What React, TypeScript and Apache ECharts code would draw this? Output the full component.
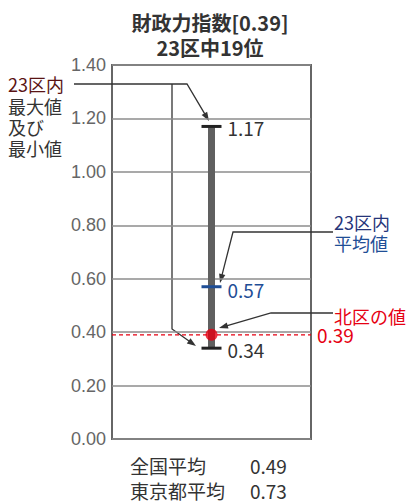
import React, { useEffect, useRef } from "react";
import * as echarts from "echarts";

const categories = ["北区"];
const maxValues = [1.17];
const minValues = [0.34];
const meanValues = [0.57];
const kitaValues = [0.39];
const yMin = 0;
const yMax = 1.4;
const yInterval = 0.2;
const titleLines = ["財政力指数[0.39]", "23区中19位"];
const footLabels = ["全国平均", "東京都平均"];
const footValues = [0.49, 0.73];

const JP = '"Noto Sans CJK JP", "Noto Sans", sans-serif';
const INK = "#333";
const RED = "#e60012";
const BLUE = "#1f4e96";
const NAVY = "#26357a";

function arrowHead(tipX: number, tipY: number, fromX: number, fromY: number) {
  const dx = tipX - fromX;
  const dy = tipY - fromY;
  const len = Math.sqrt(dx * dx + dy * dy);
  const ux = dx / len;
  const uy = dy / len;
  const L = 9;
  const W = 3.2;
  const bx = tipX - ux * L;
  const by = tipY - uy * L;
  return {
    type: "polygon",
    shape: {
      points: [
        [tipX, tipY],
        [bx - uy * W, by + ux * W],
        [bx + uy * W, by - ux * W],
      ],
    },
    style: { fill: INK },
    silent: true,
  };
}

function leader(points: number[][]) {
  const n = points.length;
  const tip = points[n - 1];
  const prev = points[n - 2];
  const dx = tip[0] - prev[0];
  const dy = tip[1] - prev[1];
  const len = Math.sqrt(dx * dx + dy * dy);
  const shortened = [...points.slice(0, n - 1), [tip[0] - (dx / len) * 6, tip[1] - (dy / len) * 6]];
  return [
    {
      type: "polyline",
      shape: { points: shortened },
      style: { stroke: INK, lineWidth: 1.3, fill: "none" },
      silent: true,
    },
    arrowHead(tip[0], tip[1], prev[0], prev[1]),
  ];
}

function txt(x: number, y: number, text: string, fill: string, size: number, extra: any = {}) {
  return {
    type: "text",
    x,
    y,
    silent: true,
    style: {
      text,
      fill,
      font: `${extra.weight || "normal"} ${size}px ${JP}`,
      textAlign: extra.align || "left",
      verticalAlign: "middle",
    },
  };
}

export default function App() {
  const ref = useRef<HTMLDivElement>(null);
  useEffect(() => {
    if (!ref.current) return;
    const chart = echarts.init(ref.current, null, { renderer: "svg" });
    const data = categories.map((c, i) => [i, minValues[i], maxValues[i], meanValues[i]]);
    const option: any = {
      animation: false,
      grid: {
        left: 112,
        right: 99,
        top: 65,
        bottom: 65,
        show: true,
        borderColor: "#666",
        borderWidth: 2,
        backgroundColor: "transparent",
      },
      xAxis: [
        {
          type: "category",
          data: categories,
          axisLine: { show: false },
          axisTick: { show: false },
          axisLabel: { show: false },
        },
        {
          type: "value",
          min: 0,
          max: 1,
          show: false,
        },
      ],
      yAxis: {
        type: "value",
        min: yMin,
        max: yMax,
        interval: yInterval,
        axisLine: { show: false },
        axisTick: { show: false },
        axisLabel: {
          formatter: (v: number) => v.toFixed(2),
          color: "#666",
          fontSize: 18,
          fontFamily: '"Liberation Sans Narrow", "Liberation Sans", sans-serif',
          margin: 6,
        },
        splitLine: { lineStyle: { color: "#8c8c8c", width: 1.5 } },
      },
      series: [
        {
          type: "line",
          xAxisIndex: 1,
          data: [
            [0, kitaValues[0]],
            [1, kitaValues[0]],
          ],
          symbol: "none",
          silent: true,
          z: 2,
          lineStyle: { color: RED, width: 1.3, type: [4, 3] },
          endLabel: {
            show: true,
            formatter: () => kitaValues[0].toFixed(2),
            color: RED,
            fontSize: 19,
            fontFamily: JP,
            distance: 6,
          },
        },
        {
          type: "custom",
          data,
          z: 3,
          renderItem: (params: any, api: any) => {
            const x = api.value(0);
            const lo = api.value(1);
            const hi = api.value(2);
            const mean = api.value(3);
            const pHi = api.coord([x, hi]);
            const pLo = api.coord([x, lo]);
            const pM = api.coord([x, mean]);
            const cx = pHi[0];
            const font = `19px ${JP}`;
            return {
              type: "group",
              children: [
                {
                  type: "rect",
                  shape: { x: cx - 3.5, y: pHi[1], width: 7, height: pLo[1] - pHi[1] },
                  style: { fill: "#606060" },
                },
                {
                  type: "rect",
                  shape: { x: cx - 10, y: pHi[1] - 1.5, width: 20, height: 3 },
                  style: { fill: "#222" },
                },
                {
                  type: "rect",
                  shape: { x: cx - 10, y: pLo[1] - 1.5, width: 20, height: 3 },
                  style: { fill: "#222" },
                },
                {
                  type: "rect",
                  shape: { x: cx - 10, y: pM[1] - 1.5, width: 20, height: 3 },
                  style: { fill: BLUE },
                },
                {
                  type: "text",
                  x: cx + 16,
                  y: pHi[1] + 1,
                  style: { text: hi.toFixed(2), fill: INK, font, verticalAlign: "middle" },
                },
                {
                  type: "text",
                  x: cx + 16,
                  y: pM[1] + 3,
                  style: { text: mean.toFixed(2), fill: BLUE, font, verticalAlign: "middle" },
                },
                {
                  type: "text",
                  x: cx + 16,
                  y: pLo[1] + 1,
                  style: { text: lo.toFixed(2), fill: INK, font, verticalAlign: "middle" },
                },
              ],
            };
          },
        },
        {
          type: "scatter",
          data: categories.map((c, i) => [i, kitaValues[i]]),
          symbolSize: 12,
          z: 5,
          itemStyle: { color: RED },
        },
      ],
      graphic: [
        txt(210, 22, titleLines[0], INK, 20, { weight: "bold", align: "center" }),
        txt(210, 47, titleLines[1], INK, 20, { weight: "bold", align: "center" }),
        txt(8, 84, "23区内", "#5a1414", 18),
        txt(8, 106, "最大値", INK, 18),
        txt(8, 127, "及び", INK, 18),
        txt(8, 148, "最小値", INK, 18),
        txt(334, 222, "23区内", NAVY, 18),
        txt(334, 243, "平均値", BLUE, 18),
        txt(334, 316, "北区の値", RED, 18),
        txt(130, 465, footLabels[0], INK, 19),
        txt(250, 465, footValues[0].toFixed(2), INK, 19),
        txt(130, 490, footLabels[1], INK, 19),
        txt(250, 490, footValues[1].toFixed(2), INK, 19),
        ...leader([[74, 84], [187, 84], [209, 121]]),
        ...leader([[172, 84], [172, 329], [196, 346]]),
        ...leader([[333, 232], [233, 232], [220, 283]]),
        ...leader([[333, 313], [271, 313], [219, 328]]),
      ],
    };
    chart.setOption(option);
    return () => chart.dispose();
  }, []);
  return <div ref={ref} style={{ width: 410, height: 504, position: "absolute", left: 0, top: 0 }} />;
}
